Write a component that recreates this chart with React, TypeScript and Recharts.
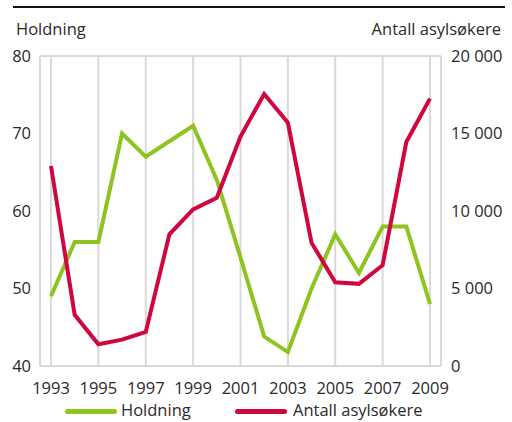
import React from "react";
import { LineChart, Line, XAxis, YAxis, CartesianGrid } from "recharts";

const years = [1993, 1994, 1995, 1996, 1997, 1998, 1999, 2000, 2001, 2002, 2003, 2004, 2005, 2006, 2007, 2008, 2009];
const holdning = [49, 56, 56, 70, 67, 69, 71, 64, 54, 43.8, 41.8, 50, 57, 52, 58, 58, 48];
const asylsokere = [12900, 3300, 1400, 1700, 2200, 8500, 10100, 10850, 14800, 17550, 15700, 7950, 5400, 5300, 6500, 14450, 17250];

const xTicks = [1993, 1995, 1997, 1999, 2001, 2003, 2005, 2007, 2009];
const leftTicks = [40, 50, 60, 70, 80];
const rightTicks = [0, 5000, 10000, 15000, 20000];

const GREEN = "#8fc31f";
const RED = "#d0063f";
const GRID = "#d9d9d9";
const TEXT = "#2a2a2a";
const FONT = "'Open Sans', 'DejaVu Sans', sans-serif";
const FS = 16.5;

const data = years.map((y, i) => ({ year: y, holdning: holdning[i], asyl: asylsokere[i] }));

const fmt = (v: number) => (v >= 1000 ? `${Math.floor(v / 1000)} ${String(v % 1000).padStart(3, "0")}` : String(v));

function LegendItem({ color, label, lineLeft, textLeft }: { color: string; label: string; lineLeft: number; textLeft: number }) {
  return (
    <>
      <div style={{ position: "absolute", left: lineLeft, top: 409, width: 52, height: 5, borderRadius: 3, background: color }} />
      <div style={{ position: "absolute", left: textLeft, top: 398, fontSize: FS, color: TEXT, lineHeight: "24px" }}>{label}</div>
    </>
  );
}

export default function App() {
  const tick = { fill: TEXT, fontSize: FS, fontFamily: FONT };
  return (
    <div style={{ position: "absolute", left: 0, top: 0, width: 512, height: 422, background: "#fff", fontFamily: FONT }}>
      <div style={{ position: "absolute", left: 13, top: 6, width: 492, height: 2, background: "#111" }} />
      <div style={{ position: "absolute", left: 16, top: 17, fontSize: FS, color: TEXT, lineHeight: "24px" }}>Holdning</div>
      <div style={{ position: "absolute", right: 11, top: 17, fontSize: FS, color: TEXT, lineHeight: "24px" }}>Antall asylsøkere</div>
      <LineChart width={512} height={422} data={data} margin={{ top: 56, right: 0, bottom: 0, left: 0 }}>
        <CartesianGrid stroke={GRID} strokeWidth={2} />
        <XAxis
          dataKey="year"
          type="number"
          domain={[1993, 2009]}
          ticks={xTicks}
          padding={{ left: 11, right: 11 }}
          height={56}
          axisLine={false}
          tickLine={false}
          tickMargin={10}
          tick={tick}
        />
        <YAxis
          yAxisId="left"
          domain={[40, 80]}
          ticks={leftTicks}
          width={40}
          axisLine={{ stroke: GRID, strokeWidth: 2 }}
          tickLine={false}
          tickMargin={3}
          tick={tick}
        />
        <YAxis
          yAxisId="right"
          orientation="right"
          domain={[0, 20000]}
          ticks={rightTicks}
          width={71}
          axisLine={{ stroke: GRID, strokeWidth: 2 }}
          tickLine={false}
          tickMargin={4}
          tick={tick}
          tickFormatter={fmt}
        />
        <Line yAxisId="left" dataKey="holdning" stroke={GREEN} strokeWidth={4} dot={false} isAnimationActive={false} strokeLinejoin="miter" />
        <Line yAxisId="right" dataKey="asyl" stroke={RED} strokeWidth={4} dot={false} isAnimationActive={false} strokeLinejoin="miter" />
      </LineChart>
      <LegendItem color={GREEN} label="Holdning" lineLeft={65} textLeft={121} />
      <LegendItem color={RED} label="Antall asylsøkere" lineLeft={235} textLeft={293} />
    </div>
  );
}
